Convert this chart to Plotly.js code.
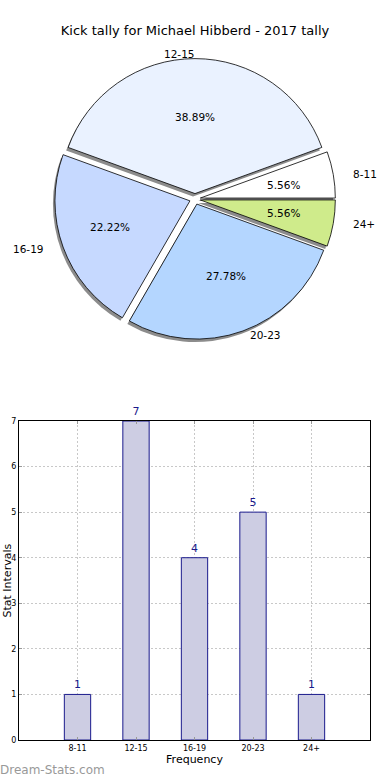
<!DOCTYPE html>
<html><head><meta charset="utf-8">
<script src="https://cdn.plot.ly/plotly-3.0.1.min.js"></script>
<style>html,body{margin:0;padding:0;background:#fff}#c{width:390px;height:780px}</style>
</head><body><div id="c"></div>
<script>
const categories = ['8-11','12-15','16-19','20-23','24+'];
const counts = [1, 7, 4, 5, 1];
const sliceColors = ['#ffffff','#eaf2ff','#c6d9ff','#b4d6ff','#cfeb8b'];
const pulls = [0.04, 0.04, 0.04, 0.04, 0.04];
const titleText = 'Kick tally for Michael Hibberd - 2017 tally';
const xTitle = 'Frequency';
const yTitle = 'Stat Intervals';

const W = 390, H = 780;
const F = 'DejaVu Sans, sans-serif';
// pie geometry (px)
const cx = 195, cy = 199, r = 135;
const half = r * (1 + Math.max(...pulls));
const pd = {x:[(cx-half)/W,(cx+half)/W], y:[1-(cy+half)/H,1-(cy-half)/H]};
const sdx = -2/W, sdy = -3/H;
const pdShadow = {x:[pd.x[0]+sdx,pd.x[1]+sdx], y:[pd.y[0]+sdy,pd.y[1]+sdy]};

const pieCommon = {
  type:'pie', labels:categories, values:counts, sort:false,
  direction:'counterclockwise', rotation:70, pull:pulls,
  hoverinfo:'skip', showlegend:false, textinfo:'none'
};
const shadow = Object.assign({}, pieCommon, {
  domain:pdShadow, marker:{colors:categories.map(()=> '#8c8c8c'), line:{width:0}}
});
const main = Object.assign({}, pieCommon, {
  domain:pd, marker:{colors:sliceColors, line:{color:'#000', width:0.8}}
});

// slice label / percent text placed along each slice's mid-angle (matplotlib style)
const total = counts.reduce((a,b)=>a+b,0);
const annotations = [];
const rx = 141, ry = 127;
let cum = 0;
counts.forEach((v,i)=>{
  const mid = (cum + v/2) / total * 2*Math.PI; cum += v;
  const c = Math.cos(mid), s = Math.sin(mid);
  const pp = pulls[i]*r;
  annotations.push({text:(v/total*100).toFixed(2)+'%', xref:'paper', yref:'paper',
    x:(cx + (pp+0.6*rx)*c)/W, y:1-(cy - (pp+0.6*ry)*s)/H,
    xanchor:'center', yanchor:'middle', showarrow:false, borderpad:0, borderwidth:0,
    font:{family:F, size:10.5, color:'#000'}});
  annotations.push({text:categories[i], xref:'paper', yref:'paper',
    x:(cx + (pp+1.1*rx)*c)/W, y:1-(cy - (pp+1.1*ry)*s)/H,
    xanchor: c > 0.01 ? 'left' : 'right', yanchor:'middle', showarrow:false, borderpad:0, borderwidth:0,
    font:{family:F, size:10.5, color:'#000'}});
});
annotations.push({text:'Dream-Stats.com', xref:'paper', yref:'paper', x:0, y:1-770/H,
  xanchor:'left', yanchor:'middle', xshift:0, showarrow:false, borderpad:0, borderwidth:0,
  font:{family:F, size:12, color:'#999'}});
annotations.push({text:yTitle, xref:'paper', yref:'paper', x:7/W, y:1-580.5/H, textangle:-90,
  xanchor:'center', yanchor:'middle', showarrow:false, borderpad:0, borderwidth:0,
  font:{family:F, size:11, color:'#000'}});

const bars = {
  type:'bar', x:categories, y:counts, width:0.45, xaxis:'x', yaxis:'y',
  marker:{color:'#cdcde3', line:{color:'#1a1a8c', width:1}},
  text:counts.map(String), textposition:'outside', cliponaxis:false,
  textfont:{family:F, size:11, color:'#1a1a8c'}, hoverinfo:'skip', showlegend:false
};

const gridDash = '2px,2px';
const layout = {
  width:W, height:H, margin:{l:0,r:0,t:0,b:0},
  paper_bgcolor:'#fff', plot_bgcolor:'#fff', showlegend:false,
  font:{family:F, color:'#000'},
  title:{text:titleText, font:{family:F, size:13, color:'#000'}, x:0.5, xanchor:'center', y:1-30/H, yanchor:'middle'},
  xaxis:{domain:[19/W,370/W], anchor:'y', range:[-1,5], type:'category',
    showgrid:true, gridcolor:'#c8c8c8', griddash:gridDash, gridwidth:1,
    showline:true, linecolor:'#000', linewidth:1, mirror:'ticks',
    ticks:'inside', ticklen:3, tickcolor:'#999',
    tickfont:{family:F, size:8, color:'#000'},
    title:{text:xTitle, font:{family:F, size:11, color:'#000'}, standoff:3},
    zeroline:false, fixedrange:true},
  yaxis:{domain:[1-740/H,1-421/H], anchor:'x', range:[0,7], dtick:1,
    showgrid:true, gridcolor:'#c8c8c8', griddash:gridDash, gridwidth:1,
    showline:true, linecolor:'#000', linewidth:1, mirror:'ticks',
    ticks:'inside', ticklen:3, tickcolor:'#999',
    tickfont:{family:F, size:8, color:'#000'},
    zeroline:false, fixedrange:true},
  annotations:annotations
};
Plotly.newPlot('c', [shadow, main, bars], layout, {staticPlot:true, displayModeBar:false});
</script></body></html>
